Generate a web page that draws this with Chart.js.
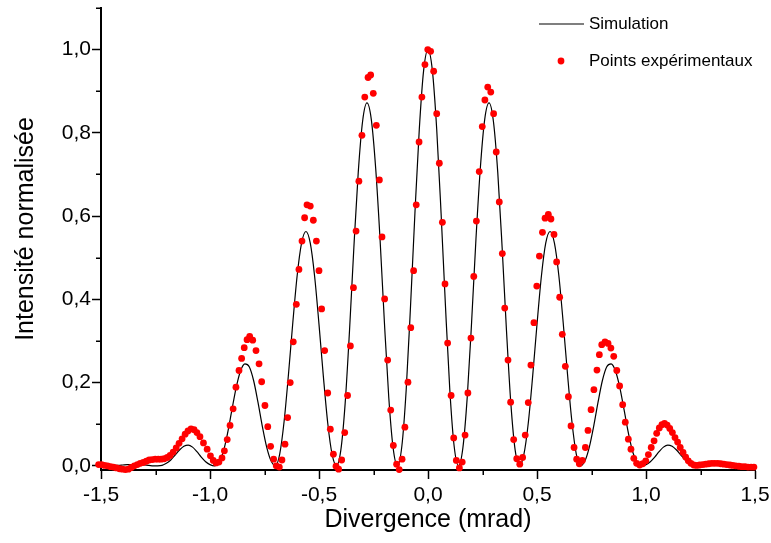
<!DOCTYPE html>
<html>
<head>
<meta charset="utf-8">
<script src="https://cdn.jsdelivr.net/npm/chart.js@4/dist/chart.umd.min.js"></script>
<style>
  html, body { margin: 0; padding: 0; background: #fff; }
  canvas { display: block; }
</style>
</head>
<body>
<canvas id="diffraction-chart" width="771" height="543"></canvas>
<script>
// Simulation curve (divergence in mrad, normalised intensity)
const simX = [
  -1.5,-1.48,-1.46,-1.44,-1.42,-1.4,-1.38,-1.36,-1.34,-1.32,-1.3,-1.28,-1.26,-1.24,-1.22,-1.2,
  -1.18,-1.16,-1.14,-1.12,-1.1,-1.08,-1.06,-1.04,-1.02,-1,-0.98,-0.96,-0.94,-0.92,-0.9,-0.88,
  -0.86,-0.84,-0.82,-0.8,-0.78,-0.76,-0.74,-0.72,-0.7,-0.68,-0.66,-0.64,-0.62,-0.6,-0.58,-0.56,
  -0.54,-0.52,-0.5,-0.48,-0.46,-0.44,-0.42,-0.4,-0.38,-0.36,-0.34,-0.32,-0.3,-0.28,-0.26,-0.24,
  -0.22,-0.2,-0.18,-0.16,-0.14,-0.12,-0.1,-0.08,-0.06,-0.04,-0.02,0,
  0.02,0.04,0.06,0.08,0.1,0.12,0.14,0.16,0.18,0.2,0.22,0.24,0.26,0.28,0.3,0.32,0.34,0.36,0.38,0.4,
  0.42,0.44,0.46,0.48,0.5,0.52,0.54,0.56,0.58,0.6,0.62,0.64,0.66,0.68,0.7,0.72,0.74,0.76,0.78,0.8,
  0.82,0.84,0.86,0.88,0.9,0.92,0.94,0.96,0.98,1,1.02,1.04,1.06,1.08,1.1,1.12,1.14,1.16,1.18,1.2,
  1.22,1.24,1.26,1.28,1.3,1.32,1.34,1.36,1.38,1.4,1.42,1.44,1.46,1.48,1.5
]
const simY = [
  0.001,0.001,0.001,0.001,0.001,0.002,0.003,0.003,0.003,0.003,
  0.002,0.001,0.000,0.000,0.001,0.006,0.014,0.026,0.038,0.047,
  0.050,0.045,0.034,0.021,0.010,0.003,0.000,0.007,0.032,0.077,
  0.133,0.188,0.228,0.245,0.238,0.205,0.153,0.095,0.045,0.012,
  0.000,0.029,0.107,0.220,0.345,0.458,0.535,0.563,0.535,0.455,
  0.340,0.215,0.103,0.028,0.000,0.037,0.150,0.325,0.525,0.705,
  0.828,0.872,0.832,0.715,0.545,0.345,0.165,0.043,0.000,0.047,
  0.183,0.385,0.607,0.808,0.950,
  1.000,
  0.950,0.808,0.607,0.385,0.183,
  0.047,0.000,0.043,0.165,0.345,0.545,0.715,0.832,0.872,0.828,
  0.705,0.525,0.325,0.150,0.037,0.000,0.028,0.103,0.215,0.340,
  0.455,0.535,0.563,0.535,0.458,0.345,0.220,0.107,0.029,0.000,
  0.012,0.045,0.095,0.153,0.205,0.238,0.245,0.228,0.188,0.133,
  0.077,0.032,0.007,0.000,0.003,0.010,0.021,0.034,0.045,0.050,
  0.047,0.038,0.026,0.014,0.006,0.001,0.000,0.000,0.001,0.002,
  0.003,0.003,0.003,0.003,0.002,0.001,0.001,0.001,0.001,0.001
]

// Experimental points
const expX = [
  -1.525,-1.511,-1.497,-1.484,-1.470,-1.456,-1.443,-1.429,-1.415,-1.402,
  -1.388,-1.374,-1.361,-1.347,-1.333,-1.320,-1.306,-1.292,-1.279,-1.265,
  -1.251,-1.237,-1.224,-1.210,-1.196,-1.183,-1.169,-1.155,-1.142,-1.128,
  -1.114,-1.101,-1.087,-1.073,-1.060,-1.046,-1.030,-1.013,-0.998,-0.985,
  -0.972,-0.959,-0.945,-0.934,-0.921,-0.908,-0.894,-0.881,-0.867,-0.855,
  -0.843,-0.830,-0.818,-0.804,-0.789,-0.775,-0.763,-0.748,-0.735,-0.722,
  -0.708,-0.696,-0.682,-0.670,-0.656,-0.644,-0.632,-0.618,-0.604,-0.592,
  -0.578,-0.566,-0.555,-0.540,-0.526,-0.512,-0.500,-0.488,-0.474,-0.460,
  -0.448,-0.434,-0.422,-0.410,-0.396,-0.382,-0.369,-0.356,-0.342,-0.330,
  -0.317,-0.303,-0.290,-0.275,-0.263,-0.251,-0.237,-0.223,-0.211,-0.199,
  -0.185,-0.171,-0.159,-0.144,-0.132,-0.119,-0.106,-0.092,-0.079,-0.066,
  -0.054,-0.041,-0.028,-0.014,-0.001,0.012,0.026,0.040,0.052,0.066,
  0.078,0.090,0.106,0.118,0.130,0.144,0.157,0.170,0.183,0.197,
  0.210,0.222,0.235,0.249,0.261,0.274,0.288,0.301,0.313,0.327,
  0.341,0.352,0.367,0.379,0.393,0.407,0.421,0.434,0.446,0.460,
  0.472,0.486,0.499,0.511,0.525,0.537,0.552,0.564,0.578,0.590,
  0.604,0.616,0.630,0.644,0.656,0.670,0.682,0.694,0.708,0.722,
  0.734,0.748,0.761,0.775,0.786,0.797,0.812,0.826,0.839,0.852,
  0.866,0.879,0.893,0.905,0.919,0.931,0.944,0.957,0.971,0.985,
  0.999,1.011,1.024,1.037,1.049,1.061,1.073,1.085,1.097,1.109,
  1.121,1.133,1.145,1.157,1.170,1.182,1.194,1.206,1.219,1.232,
  1.246,1.260,1.274,1.288,1.302,1.315,1.329,1.343,1.357,1.371,
  1.385,1.398,1.412,1.426,1.440,1.454,1.468,1.482,1.495
]
const expY = [
  0.004,0.003,0.003,0.001,0.000,-0.002,-0.003,-0.005,-0.007,-0.008,
  -0.009,-0.008,-0.004,0.000,0.003,0.006,0.008,0.011,0.014,0.015,
  0.016,0.016,0.016,0.017,0.020,0.025,0.033,0.043,0.054,0.065,
  0.076,0.084,0.089,0.087,0.080,0.070,0.055,0.040,0.024,0.013,
  0.007,0.009,0.019,0.036,0.063,0.097,0.137,0.189,0.229,0.258,
  0.284,0.303,0.311,0.302,0.277,0.245,0.202,0.145,0.094,0.047,
  0.016,0.000,-0.003,0.014,0.052,0.116,0.200,0.298,0.388,0.472,
  0.540,0.596,0.627,0.624,0.590,0.540,0.469,0.377,0.277,0.175,
  0.088,0.028,-0.001,-0.008,0.014,0.080,0.169,0.288,0.428,0.564,
  0.684,0.794,0.886,0.933,0.939,0.895,0.818,0.687,0.550,0.401,
  0.254,0.134,0.049,0.004,-0.009,0.016,0.093,0.201,0.332,0.469,
  0.627,0.778,0.886,0.964,1.000,0.996,0.948,0.846,0.727,0.585,
  0.437,0.295,0.169,0.067,0.013,-0.005,0.009,0.074,0.175,0.307,
  0.455,0.588,0.707,0.815,0.879,0.910,0.898,0.846,0.754,0.634,
  0.510,0.379,0.254,0.153,0.063,0.017,0.004,0.020,0.074,0.152,
  0.242,0.344,0.432,0.504,0.561,0.595,0.604,0.593,0.556,0.490,
  0.405,0.316,0.239,0.166,0.096,0.044,0.016,0.005,0.013,0.044,
  0.085,0.135,0.183,0.230,0.267,0.291,0.298,0.294,0.283,0.263,
  0.229,0.192,0.147,0.105,0.064,0.040,0.018,0.006,0.002,0.005,
  0.012,0.027,0.044,0.060,0.078,0.091,0.099,0.102,0.098,0.090,
  0.080,0.068,0.057,0.044,0.032,0.021,0.012,0.006,0.002,0.001,
  0.002,0.003,0.004,0.005,0.006,0.006,0.006,0.005,0.004,0.003,
  0.002,0.001,0.000,-0.001,-0.002,-0.002,-0.003,-0.003,-0.003
]

// Axes
const xTicks = [-1.5, -1, -0.5, 0, 0.5, 1, 1.5]
const xMinorTicks = [-1.25, -0.75, -0.25, 0.25, 0.75, 1.25]
const yTicks = [0, 0.2, 0.4, 0.6, 0.8, 1.0]
const yMinorTicks = [0.1, 0.3, 0.5, 0.7, 0.9, 1.1]
const seriesNames = ["Simulation", "Points expérimentaux"]
const xTitle = "Divergence (mrad)"
const yTitle = "Intensité normalisée"

const FONT = "'Liberation Sans', Arial, sans-serif"
Chart.defaults.font.family = FONT
Chart.defaults.color = '#000'

const commaLabel = v => Number(v).toFixed(1).replace('.', ',')

// Minor ticks, axis titles and the legend box
const decorations = {
    id: 'decorations',
    afterDraw(chart) {
        const ctx = chart.ctx
        const { left, bottom } = chart.chartArea
        const xs = chart.scales.x
        const ys = chart.scales.y
        ctx.save()

        ctx.strokeStyle = '#000'
        ctx.lineWidth = 1.5
        ctx.beginPath()
        xMinorTicks.forEach(v => {
            const px = Math.round(xs.getPixelForValue(v)) + 0.25
            ctx.moveTo(px, bottom)
            ctx.lineTo(px, bottom + 5)
        })
        yMinorTicks.forEach(v => {
            const py = Math.round(ys.getPixelForValue(v)) + 0.25
            ctx.moveTo(left, py)
            ctx.lineTo(left - 5, py)
        })
        ctx.stroke()

        ctx.fillStyle = '#000'
        ctx.font = `25px ${FONT}`
        ctx.textAlign = 'center'
        ctx.textBaseline = 'middle'
        ctx.fillText(xTitle, (xs.left + xs.right) / 2, 520)
        ctx.save()
        ctx.translate(26, 229)
        ctx.rotate(-Math.PI / 2)
        ctx.fillText(yTitle, 0, 0)
        ctx.restore()

        // legend
        ctx.font = `17px ${FONT}`
        ctx.textAlign = 'left'
        ctx.lineWidth = 1.2
        ctx.beginPath()
        ctx.moveTo(539, 24)
        ctx.lineTo(584, 24)
        ctx.stroke()
        ctx.fillText(seriesNames[0], 589, 24)
        ctx.fillStyle = '#ff0000'
        ctx.beginPath()
        ctx.arc(561, 61, 3.4, 0, Math.PI * 2)
        ctx.fill()
        ctx.fillStyle = '#000'
        ctx.fillText(seriesNames[1], 589, 61)

        ctx.restore()
    }
}

const ctx = document.getElementById('diffraction-chart')
new Chart(ctx, {
    type: 'scatter',
    data: {
        datasets: [{
            label: seriesNames[1],
            data: expX.map((x, i) => ({ x: x, y: expY[i] })),
            pointRadius: 3.4,
            pointHoverRadius: 3.4,
            pointBackgroundColor: '#ff0000',
            backgroundColor: '#ff0000',
            pointBorderWidth: 0,
            borderWidth: 0,
            clip: false,
            order: 0
        }, {
            label: seriesNames[0],
            data: simX.map((x, i) => ({ x: x, y: simY[i] })),
            showLine: true,
            borderColor: '#000',
            borderWidth: 1.2,
            pointRadius: 0,
            cubicInterpolationMode: 'monotone',
            order: 1
        }]
    },
    options: {
        responsive: false,
        animation: false,
        devicePixelRatio: 1,
        layout: { padding: { top: 8, right: 16, left: 0, bottom: 0 } },
        plugins: {
            legend: { display: false },
            tooltip: { enabled: false }
        },
        scales: {
            x: {
                type: 'linear',
                min: -1.5,
                max: 1.5,
                afterBuildTicks: scale => { scale.ticks = xTicks.map(v => ({ value: v })) },
                afterFit: scale => {
                    scale.height = 73
                    scale.paddingLeft = 0
                    scale.paddingRight = 0
                },
                grid: { drawOnChartArea: false, drawTicks: true, tickLength: 9, tickWidth: 1.5, tickColor: '#000' },
                border: { display: true, color: '#000', width: 2 },
                ticks: {
                    callback: commaLabel,
                    color: '#000',
                    font: { size: 21 },
                    padding: 4,
                    maxRotation: 0,
                    autoSkip: false
                }
            },
            y: {
                type: 'linear',
                min: -0.01,
                max: 1.1,
                afterBuildTicks: scale => { scale.ticks = yTicks.map(v => ({ value: v })) },
                afterFit: scale => {
                    scale.width = 101
                    scale.paddingTop = 0
                    scale.paddingBottom = 0
                },
                grid: { drawOnChartArea: false, drawTicks: true, tickLength: 9, tickWidth: 1.5, tickColor: '#000' },
                border: { display: true, color: '#000', width: 2 },
                ticks: {
                    callback: commaLabel,
                    color: '#000',
                    font: { size: 21 },
                    padding: 1,
                    autoSkip: false
                }
            }
        }
    },
    plugins: [decorations]
})
</script>
</body>
</html>
